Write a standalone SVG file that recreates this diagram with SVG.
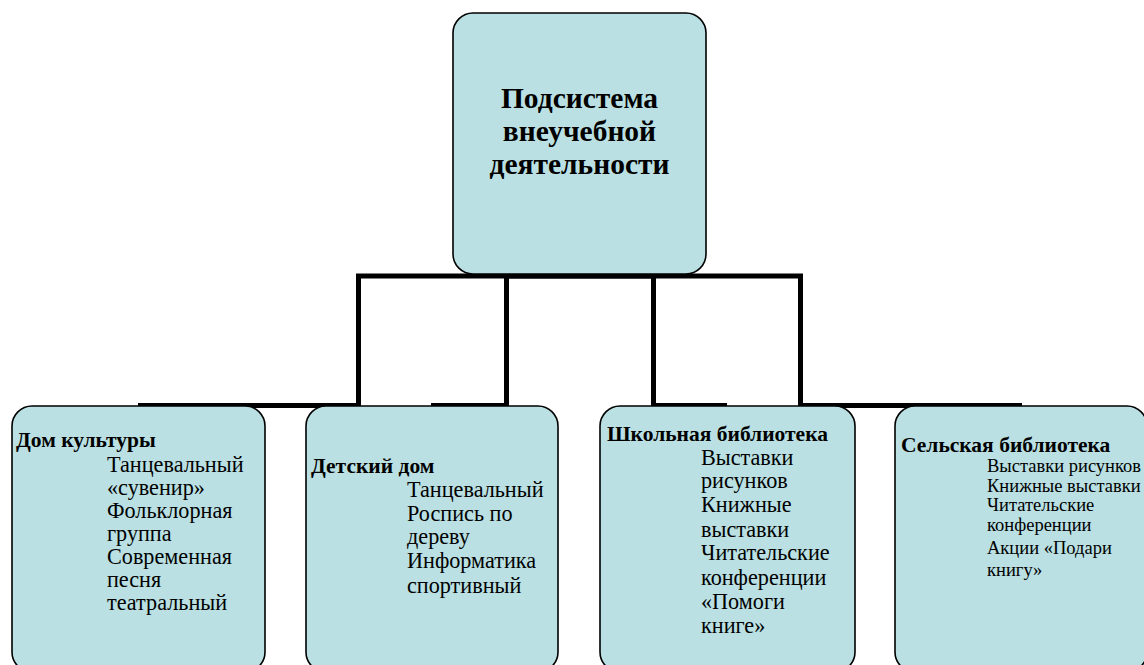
<svg xmlns="http://www.w3.org/2000/svg" width="1144" height="665" viewBox="0 0 1144 665">
<style>
.box{fill:#BAE0E3;stroke:#000;stroke-width:1.6}
.con{fill:none;stroke:#000;stroke-width:5;stroke-linejoin:miter}
.t{font-family:"Liberation Serif","Times New Roman",serif;fill:#000}
.h{font-weight:bold;font-size:29.5px}
.b{font-weight:bold;font-size:21.5px}
.i{font-size:22.2px}
.s{font-size:18.5px}
</style>
<rect width="1144" height="665" fill="#fff"/>
<g id="connectors">
<path class="con" d="M579,276 H358.5 V405.5 H138"/>
<path class="con" d="M579,276 H506.5 V405.5 H431"/>
<path class="con" d="M579,276 H653.5 V405.5 H727"/>
<path class="con" d="M579,276 H800.5 V405.5 H1022"/>
</g>
<g id="root">
<rect class="box" x="453" y="13" width="253" height="261" rx="20"/>
<text class="t h" text-anchor="middle" x="579.5"><tspan x="579.5" y="108">Подсистема</tspan><tspan x="579.5" y="141">внеучебной</tspan><tspan x="579.5" y="174">деятельности</tspan></text>
</g>
<g id="dom-kultury">
<rect class="box" x="12" y="406" width="253" height="266" rx="20"/>
<text class="t b" x="16" y="447">Дом культуры</text>
<text class="t i"><tspan x="107" y="472">Танцевальный</tspan><tspan x="107" y="495">«сувенир»</tspan><tspan x="107" y="518">Фольклорная</tspan><tspan x="107" y="541">группа</tspan><tspan x="107" y="564">Современная</tspan><tspan x="107" y="587">песня</tspan><tspan x="107" y="610">театральный</tspan></text>
</g>
<g id="detskiy-dom">
<rect class="box" x="306" y="406" width="252" height="266" rx="20"/>
<text class="t b" x="311" y="473">Детский дом</text>
<text class="t i"><tspan x="407" y="497">Танцевальный</tspan><tspan x="407" y="521">Роспись по</tspan><tspan x="407" y="544">дереву</tspan><tspan x="407" y="568">Информатика</tspan><tspan x="407" y="593">спортивный</tspan></text>
</g>
<g id="shkolnaya">
<rect class="box" x="600" y="406" width="255" height="266" rx="20"/>
<text class="t b" x="607" y="441">Школьная библиотека</text>
<text class="t i"><tspan x="701" y="465">Выставки</tspan><tspan x="701" y="488">рисунков</tspan><tspan x="701" y="512">Книжные</tspan><tspan x="701" y="537">выставки</tspan><tspan x="701" y="560">Читательские</tspan><tspan x="701" y="585">конференции</tspan><tspan x="701" y="609">«Помоги</tspan><tspan x="701" y="633">книге»</tspan></text>
</g>
<g id="selskaya">
<rect class="box" x="895" y="406" width="252" height="266" rx="20"/>
<text class="t b" x="901" y="452">Сельская библиотека</text>
<text class="t s"><tspan x="987" y="472">Выставки рисунков</tspan><tspan x="987" y="492">Книжные выставки</tspan><tspan x="987" y="511">Читательские</tspan><tspan x="987" y="531">конференции</tspan><tspan x="987" y="554">Акции «Подари</tspan><tspan x="987" y="576">книгу»</tspan></text>
</g>
</svg>
